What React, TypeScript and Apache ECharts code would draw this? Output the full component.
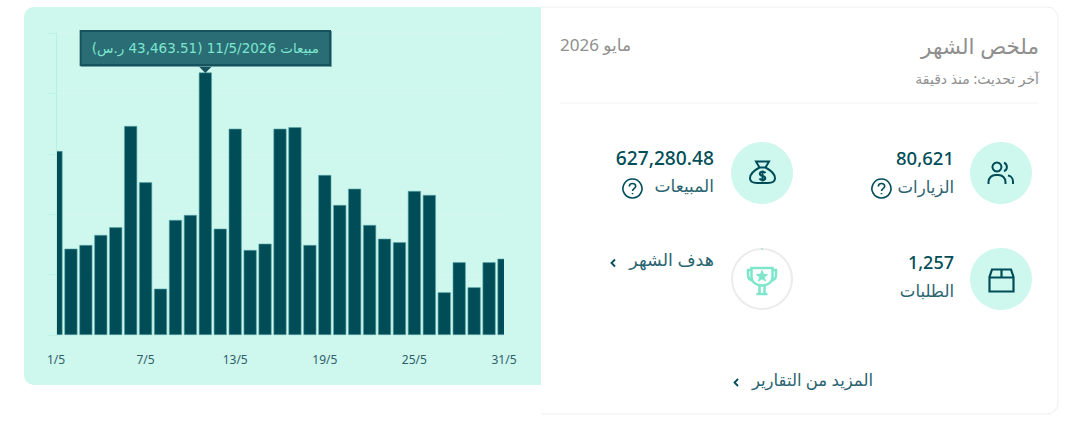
import React, { useEffect, useRef } from "react";
import * as echarts from "echarts";

const days = ["1/5","2/5","3/5","4/5","5/5","6/5","7/5","8/5","9/5","10/5","11/5","12/5","13/5","14/5","15/5","16/5","17/5","18/5","19/5","20/5","21/5","22/5","23/5","24/5","25/5","26/5","27/5","28/5","29/5","30/5","31/5"];
const sales = [30460,14290,14900,16560,17830,34600,25280,7670,19040,19870,43463.51,17600,34150,14070,15120,34150,34390,14900,26490,21520,24220,18210,15940,15350,23840,23180,7070,12040,7900,12040,12630];
const tooltipIndex = 10;
const tooltipText = "مبيعات 11/5/2026 (43,463.51 ر.س)";

const titleText = "ملخص الشهر";
const monthText = "مايو 2026";
const updatedText = "آخر تحديث: منذ دقيقة";
const visitsValue = "80,621";
const visitsLabel = "الزيارات";
const salesValue = "627,280.48";
const salesLabel = "المبيعات";
const ordersValue = "1,257";
const ordersLabel = "الطلبات";
const goalLabel = "هدف الشهر";
const moreLabel = "المزيد من التقارير";

const DARK = "#004d58";
const MINT = "#cef7ee";
const TEAL = "#7de6cb";
const SOFT = "#2a6470";
const GREY = "#8f8f8f";
const FONT = "'Noto Sans', 'DejaVu Sans', sans-serif";

const panelD = "M10 0H517V378H10A10 10 0 0 1 0 368V10A10 10 0 0 1 10 0Z";
const cardD = "M0 0H506A11 11 0 0 1 517 11V396A11 11 0 0 1 506 407H0";
const usersD = "M9 0.500A4.500 4.500 0 1 1 8.900 0.500ZM16 0.800A4.500 4.500 0 0 1 16 9.200M0.500 22V20A7 7 0 0 1 7.500 13H10.500A7 7 0 0 1 17.500 20V22M20 13.500A6 6 0 0 1 25 19.500V22";
const bagD = "M7 0.500H20L16.500 6.500H10.500ZM10.500 6.500C4 10 0.800 14 1 17.500C1.200 20.500 4 22 8 22H19C23 22 25.800 20.500 26 17.500C26.200 14 23 10 16.500 6.500M16.500 12C16 11 15 10.800 13.500 10.800C11.800 10.800 10.800 11.600 10.800 12.800C10.800 14.200 12 14.600 13.500 15C15 15.400 16.300 15.900 16.300 17.200C16.300 18.400 15.200 19 13.500 19C12 19 11 18.500 10.500 17.600M13.500 9.500V20.500";
const boxD = "M3 0.500H22L24.500 8V22.500H0.500V8ZM0.500 8.500H24.500M12.500 0.500V8.500";
const trophyD = "M4.500 1H25.500V10C25.500 15 21 18.500 15 18.500C9 18.500 4.500 15 4.500 10ZM4.500 3H1V8C1 11 2.500 13 6 14M25.500 3H29V8C29 11 27.500 13 24 14M12.500 18.500V26.500M17.500 18.500V26.500M9.500 27H20.500";
const starD = "M15 3.500L16.500 7.200L20.500 7.500L17.400 10L18.400 14L15 11.800L11.600 14L12.600 10L9.500 7.500L13.500 7.200Z";
const questionD = "M9.500 0A9.500 9.500 0 1 1 9.400 0ZM6.300 7.500C6.300 5.500 7.800 4.500 9.500 4.500C11.300 4.500 12.700 5.700 12.700 7.300C12.700 9.500 9.500 9.800 9.500 12M9.500 14V15.300";
const chevronD = "M3.500 0L0 3.500L3.500 7";

echarts.graphic.registerShape("panelShape", echarts.graphic.extendPath(panelD, {}));
echarts.graphic.registerShape("cardShape", echarts.graphic.extendPath(cardD, {}));
echarts.graphic.registerShape("usersIcon", echarts.graphic.extendPath(usersD, {}));
echarts.graphic.registerShape("bagIcon", echarts.graphic.extendPath(bagD, {}));
echarts.graphic.registerShape("boxIcon", echarts.graphic.extendPath(boxD, {}));
echarts.graphic.registerShape("trophyIcon", echarts.graphic.extendPath(trophyD, {}));
echarts.graphic.registerShape("starIcon", echarts.graphic.extendPath(starD, {}));
echarts.graphic.registerShape("questionIcon", echarts.graphic.extendPath(questionD, {}));
echarts.graphic.registerShape("chevronIcon", echarts.graphic.extendPath(chevronD, {}));

const txt = (text: string, x: number, y: number, size: number, fill: string, align = "right", weight = 400) => ({
  type: "text", x, y, z: 5,
  style: { text, fontSize: size, fontFamily: FONT, fontWeight: weight, fill, align, textAlign: align, verticalAlign: "middle", textVerticalAlign: "middle" },
});
const icon = (type: string, x: number, y: number, stroke: string, lineWidth = 2, fill = "none") => ({
  type, x, y, z: 5,
  style: { fill, stroke, lineWidth },
});
const dot = (cx: number, cy: number) => ({
  type: "circle", z: 4, shape: { cx, cy, r: 31 }, style: { fill: MINT },
});

export default function App() {
  const ref = useRef<HTMLDivElement>(null);
  useEffect(() => {
    const chart = echarts.init(ref.current!, undefined, { renderer: "svg" });
    chart.setOption({
      animation: false,
      backgroundColor: "#ffffff",
      grid: { left: 56, right: 572, top: 33, bottom: 112 },
      xAxis: {
        type: "category",
        data: days,
        boundaryGap: false,
        axisLine: { show: false },
        axisTick: { show: false },
        axisLabel: { interval: 5, color: "#2f6068", fontSize: 12, fontFamily: FONT, margin: 18 },
        splitLine: { show: false },
      },
      yAxis: [
        {
          type: "value",
          min: 0,
          max: 50000,
          interval: 10000,
          axisLine: { show: false },
          axisTick: { show: false },
          axisLabel: { show: false },
          splitLine: { show: true, lineStyle: { color: "#d5f9f1", width: 1 } },
        },
        {
          type: "value",
          position: "left",
          z: 10,
          min: 0,
          max: 50000,
          interval: 10000,
          axisLine: { show: true, lineStyle: { color: "#b6f0e2", width: 1 } },
          axisTick: { show: true, length: 8, lineStyle: { color: "#bff2e6" } },
          axisLabel: { show: false },
          splitLine: { show: false },
        },
      ],
      series: [
        {
          type: "bar",
          data: sales,
          barWidth: 13,
          itemStyle: { color: DARK, borderColor: "#5aa7a8", borderWidth: 0.6 },
          markPoint: {
            silent: true,
            symbol: "triangle",
            symbolRotate: 180,
            symbolSize: [14, 7],
            symbolOffset: [0, -3],
            itemStyle: { color: "#14525c" },
            data: [{
              coord: [days[tooltipIndex], sales[tooltipIndex]],
              label: {
                show: true,
                position: "top",
                distance: 2,
                formatter: tooltipText,
                color: "#7de6cf",
                fontSize: 13.5,
                fontFamily: "'DejaVu Sans', sans-serif",
                backgroundColor: "#2b6d74",
                borderColor: "#14525c",
                borderWidth: 2,
                padding: [9, 10, 9, 10],
                shadowColor: "rgba(95,154,159,0.9)",
                shadowBlur: 1,
                shadowOffsetX: 1,
                shadowOffsetY: 1,
              },
            }],
          },
        },
      ],
      graphic: [
        { type: "panelShape", x: 24, y: 7, z: -10, style: { fill: MINT } },
        { type: "cardShape", x: 541, y: 7, z: -9, style: { fill: "#ffffff", stroke: "#eeeeee", lineWidth: 1 } },
        { type: "rect", z: -8, shape: { x: 539, y: 8, width: 2, height: 377 }, style: { fill: MINT } },
        // the reference cuts the first and last bars at the plot edges
        { type: "rect", z: 3, shape: { x: 46, y: 33, width: 10, height: 303 }, style: { fill: MINT } },
        { type: "rect", z: 3, shape: { x: 504, y: 33, width: 10, height: 303 }, style: { fill: MINT } },

        txt(titleText, 1039, 45, 21.5, GREY),
        txt(monthText, 560, 44, 17, GREY, "left"),
        txt(updatedText, 1039, 78, 14, GREY),
        { type: "line", z: 5, shape: { x1: 560, y1: 103, x2: 1039, y2: 103 }, style: { stroke: "#f3f3f3", lineWidth: 1 } },

        dot(1001, 173), dot(762, 173), dot(1001, 279),
        { type: "circle", z: 4, shape: { cx: 762, cy: 279, r: 30 }, style: { fill: "#ffffff", stroke: "#ececec", lineWidth: 2 } },
        { type: "line", z: 5, shape: { x1: 762, y1: 248, x2: 762, y2: 250 }, style: { stroke: TEAL, lineWidth: 1 } },

        icon("usersIcon", 988, 162, DARK),
        icon("bagIcon", 749, 161, DARK),
        icon("boxIcon", 989, 269, DARK, 2.2),
        icon("trophyIcon", 747, 267, TEAL, 2.5),
        icon("starIcon", 747, 267, TEAL, 1, TEAL),
        icon("questionIcon", 872, 179, DARK, 1.6),
        icon("questionIcon", 623, 179, DARK, 1.6),
        icon("chevronIcon", 611.5, 259.5, DARK, 1.8),
        icon("chevronIcon", 734.5, 379, DARK, 1.8),

        txt(visitsValue, 954, 157, 18.5, DARK, "right", 500),
        txt(visitsLabel, 954, 186, 16.5, SOFT),
        txt(salesValue, 714, 157, 19.2, DARK, "right", 500),
        txt(salesLabel, 714, 185, 17, SOFT),
        txt(ordersValue, 954, 262, 18, DARK, "right", 500),
        txt(ordersLabel, 954, 290, 16.5, SOFT),
        txt(goalLabel, 714, 259, 17.5, SOFT),
        txt(moreLabel, 873, 379, 16.5, SOFT),
      ],
    });
    return () => chart.dispose();
  }, []);
  return <div ref={ref} style={{ position: "absolute", left: 0, top: 0, width: 1076, height: 447 }} />;
}
